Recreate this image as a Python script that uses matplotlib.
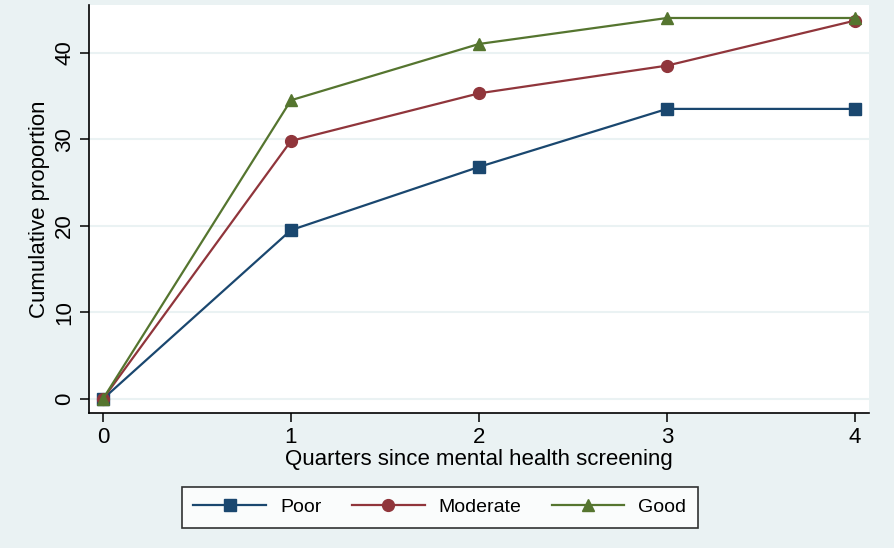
import matplotlib
matplotlib.use("Agg")
import matplotlib.pyplot as plt

quarters = [0, 1, 2, 3, 4]
poor = [0, 19.5, 26.8, 33.5, 33.5]
moderate = [0, 29.8, 35.3, 38.5, 43.7]
good = [0, 34.5, 41.0, 44.0, 44.0]
series_names = ["Poor", "Moderate", "Good"]
yticks = [0, 10, 20, 30, 40]

plt.rcParams['font.family'] = ['Liberation Sans', 'DejaVu Sans']

bg = "#EAF2F3"
fig = plt.figure(figsize=(8.94, 5.48), dpi=100, facecolor=bg)
ax = fig.add_axes([89/894, 1-413/548, (869-89)/894, (413-5)/548])
ax.set_facecolor("white")

ax.plot(quarters, poor, color="#1A476F", marker="s", markersize=8, lw=1.6, label=series_names[0], zorder=3)
ax.plot(quarters, moderate, color="#90353B", marker="o", markersize=8.5, lw=1.6, label=series_names[1], zorder=3)
ax.plot(quarters, good, color="#55752F", marker="^", markersize=9, lw=1.6, label=series_names[2], zorder=3)

ax.set_xlim(-0.074, 4.074)
ax.set_ylim(-1.62, 45.5)
ax.set_xticks(quarters)
ax.set_yticks(yticks)
ax.yaxis.grid(True, color=bg, lw=1.5)
ax.set_axisbelow(True)
for s in ["top", "right"]:
    ax.spines[s].set_visible(False)
for s in ["left", "bottom"]:
    ax.spines[s].set_linewidth(1.2)
ax.tick_params(axis="both", length=6.5, width=1.1, labelsize=16, direction="out")
for lab in ax.get_yticklabels():
    lab.set_rotation(90)
    lab.set_va("center")

ax.set_xlabel("Quarters since mental health screening", fontsize=16, labelpad=1)
ax.set_ylabel("Cumulative proportion", fontsize=16, labelpad=3)

leg = fig.legend(loc="center", bbox_to_anchor=(0.492, 0.074), bbox_transform=fig.transFigure,
                 ncol=3, fontsize=14, frameon=True, fancybox=False, edgecolor="black",
                 handlelength=3.75, columnspacing=1.55, handletextpad=0.72, borderpad=0.6)
leg.get_frame().set_linewidth(1.2)
leg.get_frame().set_facecolor("white")

fig.savefig("out.png", dpi=100, facecolor=bg)
